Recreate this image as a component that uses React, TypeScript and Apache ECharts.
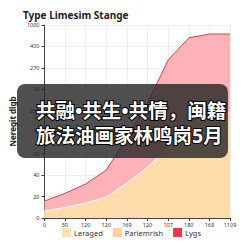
import React, { useEffect, useRef } from "react";
import * as echarts from "echarts";

const categories = ["0", "50", "120", "120", "169", "120", "107", "180", "169", "1109"];
const yTickLabels = ["0", "20", "40", "60", "13", "250", "30", "270", "400", "1000"];
const seriesNames = ["Leraged", "Parlemrish", "Lygs"];
const leragedValues = [0.33, 0.49, 0.7, 0.98, 1.63, 2.38, 3.26, 4.34, 4.8, 4.9];
const parlemrishValues = [0.33, 0.49, 0.7, 0.98, 1.63, 2.38, 3.26, 4.34, 4.8, 4.9];
const lygsValues = [0.79, 1.15, 1.59, 2.24, 3.73, 5.36, 7.37, 8.4, 8.58, 8.58];
const titleText = "Type Limesim Stange";
const yAxisName = "Neregit dlgb";
const overlayLines = ["共融•共生•共情，闽籍", "旅法油画家林鸣岗5月"];

export default function App() {
  const ref = useRef<HTMLDivElement>(null);
  useEffect(() => {
    if (!ref.current) return;
    const chart = echarts.init(ref.current, undefined, { renderer: "svg" });
    const font = "Noto Sans";
    const overlayText = (text: string, y: number) => ({
      type: "text",
      x: 36,
      y,
      z: 101,
      style: {
        text,
        fontFamily: "'Noto Sans', 'Noto Sans CJK SC'",
        fontSize: 19.5,
        fontWeight: "bold",
        fill: "#ffffff",
        stroke: "#000000",
        lineWidth: 2,
        verticalAlign: "middle",
      },
    });
    chart.setOption({
      animation: false,
      title: {
        text: titleText,
        left: 18,
        top: 5,
        textStyle: { fontFamily: font, fontSize: 10, fontWeight: "bold", color: "#222" },
      },
      grid: { left: 22, right: 13, top: 25, bottom: 25, containLabel: false },
      legend: {
        bottom: 1,
        left: 57,
        itemWidth: 9,
        itemHeight: 9,
        itemGap: 10,
        icon: "rect",
        data: seriesNames,
        textStyle: { fontFamily: font, fontSize: 7.5, color: "#333", padding: [0, 0, 0, -2] },
      },
      xAxis: {
        type: "category",
        data: categories,
        boundaryGap: false,
        axisLine: { lineStyle: { color: "#444", width: 1 } },
        axisTick: { show: true, interval: 0, lineStyle: { color: "#444" }, length: 3 },
        axisLabel: { interval: 0, fontFamily: font, fontSize: 5.5, color: "#333", margin: 4 },
        splitLine: { show: true, interval: 0, lineStyle: { color: "#eee", width: 1 } },
      },
      yAxis: {
        type: "value",
        min: 0,
        max: 9,
        interval: 1,
        name: yAxisName,
        nameLocation: "middle",
        nameRotate: 90,
        nameGap: 13,
        nameTextStyle: { fontFamily: font, fontSize: 8, fontWeight: "bold", color: "#222" },
        axisLine: { show: true, lineStyle: { color: "#444", width: 1 } },
        axisTick: { show: true, lineStyle: { color: "#444" }, length: 3 },
        axisLabel: {
          fontFamily: font,
          fontSize: 5.5,
          color: "#333",
          margin: 5,
          formatter: (v: number) => yTickLabels[Math.round(v)] ?? "",
        },
        splitLine: { show: true, lineStyle: { color: "#eee", width: 1 } },
      },
      series: [
        {
          name: "Lygs",
          type: "line",
          data: lygsValues,
          symbol: "none",
          itemStyle: { color: "#e8394b" },
          lineStyle: { color: "#e0404f", width: 1 },
          areaStyle: { color: "#ffb2b7", opacity: 1 },
          z: 1,
        },
        {
          name: "Leraged",
          type: "line",
          data: leragedValues,
          symbol: "none",
          itemStyle: { color: "#fde1b5" },
          lineStyle: { color: "#fddcaa", width: 0 },
          areaStyle: { color: "#fddcaa", opacity: 1 },
          z: 2,
        },
        {
          name: "Parlemrish",
          type: "line",
          data: parlemrishValues,
          symbol: "none",
          itemStyle: { color: "#fbd29b" },
          lineStyle: { color: "#ffffff", width: 1 },
          areaStyle: { color: "#fddcaa", opacity: 1 },
          z: 3,
        },
      ],
      graphic: [
        {
          type: "rect",
          z: 100,
          shape: { x: 17, y: 84, width: 211, height: 74, r: 8 },
          style: { fill: "rgba(40,40,40,0.82)" },
        },
        overlayText(overlayLines[0], 110),
        overlayText(overlayLines[1], 135),
      ],
    });
    return () => chart.dispose();
  }, []);
  return <div ref={ref} style={{ width: 243, height: 243, position: "absolute", left: 0, top: 0 }} />;
}
